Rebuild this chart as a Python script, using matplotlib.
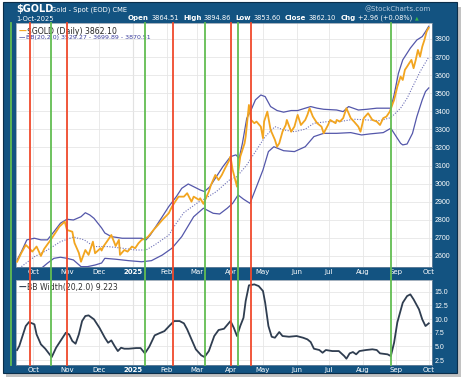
#!/usr/bin/env python3
"""Gold spot (EOD) with Bollinger Bands and BB Width, StockCharts-style panel."""
import matplotlib

matplotlib.use("Agg")
import matplotlib.dates as mdates
import matplotlib.pyplot as plt
import matplotlib.transforms as mtransforms
import pandas as pd
from matplotlib.lines import Line2D
from matplotlib.patches import Rectangle

# ---- data --------------------------------------------------------------------------
price_dates = [
    "2024-09-16", "2024-09-20", "2024-09-24", "2024-09-27", "2024-09-30",
    "2024-10-04", "2024-10-08", "2024-10-11", "2024-10-17", "2024-10-22", "2024-10-25", "2024-10-30",
    "2024-11-01", "2024-11-06", "2024-11-08", "2024-11-12", "2024-11-14", "2024-11-18", "2024-11-21",
    "2024-11-25", "2024-11-27",
    "2024-12-02", "2024-12-03", "2024-12-05", "2024-12-09", "2024-12-12", "2024-12-16", "2024-12-19",
    "2024-12-20", "2024-12-24", "2024-12-27", "2024-12-31",
    "2025-01-03", "2025-01-06", "2025-01-09", "2025-01-13", "2025-01-15", "2025-01-20", "2025-01-24",
    "2025-01-28",
    "2025-02-03", "2025-02-06", "2025-02-10", "2025-02-12", "2025-02-17", "2025-02-20", "2025-02-24",
    "2025-02-26",
    "2025-03-03", "2025-03-04", "2025-03-07", "2025-03-12", "2025-03-14", "2025-03-18", "2025-03-21",
    "2025-03-24", "2025-03-27", "2025-03-31",
    "2025-04-01", "2025-04-03", "2025-04-07", "2025-04-08", "2025-04-10", "2025-04-14", "2025-04-15",
    "2025-04-18", "2025-04-20", "2025-04-23", "2025-04-25", "2025-04-29",
    "2025-05-01", "2025-05-02", "2025-05-05", "2025-05-08", "2025-05-12", "2025-05-14", "2025-05-16",
    "2025-05-19", "2025-05-22", "2025-05-23", "2025-05-27", "2025-05-30",
    "2025-06-02", "2025-06-05", "2025-06-09", "2025-06-11", "2025-06-13", "2025-06-16", "2025-06-18",
    "2025-06-20", "2025-06-24", "2025-06-26", "2025-06-30",
    "2025-07-02", "2025-07-07", "2025-07-08", "2025-07-11", "2025-07-14", "2025-07-17", "2025-07-21",
    "2025-07-24", "2025-07-28", "2025-07-30",
    "2025-08-02", "2025-08-06", "2025-08-10", "2025-08-14", "2025-08-17", "2025-08-20", "2025-08-23",
    "2025-08-26", "2025-08-30",
    "2025-09-02", "2025-09-05", "2025-09-07", "2025-09-09", "2025-09-11", "2025-09-13", "2025-09-15",
    "2025-09-17", "2025-09-19", "2025-09-21", "2025-09-23", "2025-09-25", "2025-09-27", "2025-09-29",
    "2025-10-01",
]
price_vals = [
    2568, 2617, 2661, 2644, 2624,
    2652, 2600, 2639, 2689, 2734, 2762, 2790,
    2744, 2734, 2672, 2617, 2568, 2633, 2606, 2679, 2615,
    2643, 2630, 2655, 2689, 2716, 2655, 2689, 2606, 2633, 2624, 2652,
    2643, 2670, 2689, 2698, 2707, 2744, 2771, 2799,
    2836, 2873, 2910, 2928, 2928, 2947, 2900, 2928,
    2910, 2919, 2888, 2956, 2993, 3048, 3020, 3048, 3085, 3131,
    3149, 3076, 2983, 3057, 3149, 3223, 3260, 3435, 3352, 3334, 3343, 3315,
    3251, 3343, 3398, 3297, 3242, 3204, 3223, 3287, 3324, 3352, 3287, 3315,
    3380, 3324, 3352, 3380, 3417, 3371, 3352, 3334, 3315, 3278, 3324,
    3352, 3334, 3352, 3343, 3362, 3417, 3362, 3343, 3315, 3287,
    3362, 3389, 3352, 3343, 3324, 3362, 3371, 3398, 3462,
    3536, 3592, 3573, 3629, 3647, 3666, 3684, 3638, 3684, 3739, 3702, 3757, 3794, 3840,
    3862,
]

upper_dates = [
    "2024-09-16", "2024-09-20", "2024-09-25", "2024-10-02", "2024-10-08", "2024-10-14", "2024-10-20",
    "2024-10-26", "2024-11-01", "2024-11-07", "2024-11-14", "2024-11-18", "2024-11-22", "2024-11-26",
    "2024-12-03", "2024-12-06", "2024-12-12", "2024-12-22", "2024-12-31", "2025-01-09", "2025-01-13",
    "2025-01-17", "2025-01-21", "2025-01-28", "2025-02-03", "2025-02-10", "2025-02-15", "2025-02-21",
    "2025-02-26", "2025-03-04", "2025-03-08", "2025-03-13", "2025-03-19", "2025-03-25", "2025-04-01",
    "2025-04-06", "2025-04-09", "2025-04-12", "2025-04-16", "2025-04-20", "2025-04-24", "2025-04-29",
    "2025-05-03", "2025-05-08", "2025-05-14", "2025-05-20", "2025-05-27", "2025-06-02", "2025-06-09",
    "2025-06-14", "2025-06-20", "2025-06-26", "2025-07-08", "2025-07-14", "2025-07-19", "2025-07-28",
    "2025-08-05", "2025-08-14", "2025-08-27", "2025-08-30", "2025-09-03", "2025-09-07", "2025-09-14",
    "2025-09-20", "2025-09-25", "2025-09-28", "2025-10-01",
]
upper_vals = [
    2578, 2624, 2689, 2698, 2689, 2689, 2734,
    2781, 2803, 2799, 2817, 2839, 2827, 2808,
    2755, 2727, 2707, 2698, 2698, 2698, 2689,
    2716, 2753, 2817, 2873, 2928, 2974, 2998,
    2983, 2965, 2956, 2983, 3039, 3094, 3149,
    3159, 3140, 3223, 3361, 3407, 3463, 3490,
    3481, 3426, 3404, 3395, 3404, 3404, 3417,
    3426, 3417, 3411, 3407, 3398, 3426, 3407,
    3411, 3417, 3417, 3490, 3610, 3684, 3749,
    3794, 3813, 3840, 3870,
]

mid_dates = [
    "2024-09-20", "2024-10-02", "2024-10-14", "2024-10-26", "2024-11-07", "2024-11-17", "2024-11-26",
    "2024-12-09", "2024-12-22", "2025-01-03", "2025-01-13", "2025-01-21", "2025-02-03", "2025-02-10",
    "2025-02-17", "2025-03-03", "2025-03-08", "2025-03-19", "2025-03-31", "2025-04-07", "2025-04-16",
    "2025-04-25", "2025-05-03", "2025-05-12", "2025-05-20", "2025-05-30", "2025-06-09", "2025-06-17",
    "2025-06-30", "2025-07-11", "2025-07-24", "2025-08-05", "2025-08-17", "2025-08-27", "2025-09-05",
    "2025-09-11", "2025-09-17", "2025-09-23", "2025-10-01",
]
mid_vals = [
    2541, 2596, 2633, 2679, 2705, 2689, 2652,
    2652, 2643, 2633, 2633, 2661, 2715, 2781,
    2840, 2900, 2915, 2956, 3020, 3039, 3103,
    3186, 3260, 3315, 3297, 3287, 3301, 3334,
    3343, 3343, 3356, 3352, 3348, 3365, 3417,
    3472, 3546, 3619, 3700,
]

lower_dates = [
    "2024-10-08", "2024-10-14", "2024-10-20", "2024-10-26", "2024-11-01", "2024-11-07", "2024-11-14",
    "2024-11-20", "2024-11-27", "2024-12-03", "2024-12-06", "2024-12-16", "2024-12-28", "2025-01-09",
    "2025-01-18", "2025-01-28", "2025-02-06", "2025-02-15", "2025-02-26", "2025-03-07", "2025-03-16",
    "2025-03-22", "2025-03-29", "2025-04-03", "2025-04-08", "2025-04-13", "2025-04-19", "2025-04-25",
    "2025-05-01", "2025-05-06", "2025-05-11", "2025-05-20", "2025-05-30", "2025-06-09", "2025-06-17",
    "2025-06-26", "2025-07-08", "2025-07-21", "2025-07-31", "2025-08-08", "2025-08-20", "2025-08-27",
    "2025-08-31", "2025-09-05", "2025-09-07", "2025-09-11", "2025-09-16", "2025-09-20", "2025-09-25",
    "2025-09-28", "2025-10-01",
]
lower_vals = [
    2530, 2560, 2587, 2593, 2587, 2578, 2541,
    2541, 2550, 2561, 2587, 2582, 2574, 2568,
    2574, 2605, 2643, 2707, 2817, 2864, 2836,
    2832, 2864, 2891, 2937, 2914, 2891, 2983,
    3076, 3177, 3204, 3182, 3177, 3204, 3260,
    3278, 3278, 3282, 3269, 3275, 3282, 3306,
    3269, 3223, 3214, 3219, 3278, 3370, 3463,
    3509, 3529,
]

width_dates = [
    "2024-09-16", "2024-09-18", "2024-09-21", "2024-09-24", "2024-09-27",
    "2024-10-02", "2024-10-04", "2024-10-08", "2024-10-12", "2024-10-16", "2024-10-18", "2024-10-22",
    "2024-10-26", "2024-10-31",
    "2024-11-03", "2024-11-06", "2024-11-09", "2024-11-12", "2024-11-15", "2024-11-18", "2024-11-21",
    "2024-11-26",
    "2024-12-01", "2024-12-06", "2024-12-09", "2024-12-12", "2024-12-15", "2024-12-18", "2024-12-21",
    "2024-12-24", "2024-12-28",
    "2025-01-04", "2025-01-08", "2025-01-12", "2025-01-16", "2025-01-21", "2025-01-25", "2025-01-30",
    "2025-02-04", "2025-02-08", "2025-02-13", "2025-02-17", "2025-02-20", "2025-02-24", "2025-02-28",
    "2025-03-05", "2025-03-08", "2025-03-12", "2025-03-17", "2025-03-21", "2025-03-26",
    "2025-04-01", "2025-04-04", "2025-04-07", "2025-04-10", "2025-04-13", "2025-04-15", "2025-04-18",
    "2025-04-23", "2025-04-27",
    "2025-05-01", "2025-05-03", "2025-05-06", "2025-05-09", "2025-05-12", "2025-05-16", "2025-05-19",
    "2025-05-25",
    "2025-06-01", "2025-06-07", "2025-06-11", "2025-06-14", "2025-06-17", "2025-06-22", "2025-06-25",
    "2025-06-28",
    "2025-07-04", "2025-07-10", "2025-07-15", "2025-07-17", "2025-07-20", "2025-07-23", "2025-07-26",
    "2025-07-29",
    "2025-08-04", "2025-08-10", "2025-08-14", "2025-08-17", "2025-08-24", "2025-08-27", "2025-08-30",
    "2025-09-02", "2025-09-07", "2025-09-11", "2025-09-14", "2025-09-17", "2025-09-22", "2025-09-25",
    "2025-09-28",
    "2025-10-01",
]
width_vals = [
    4.34, 5.07, 6.90, 8.73, 9.46,
    9.04, 7.20, 5.38, 4.58, 3.55, 3.06, 4.76, 5.98, 7.50,
    7.20, 5.98, 5.49, 7.20, 9.64, 10.56, 10.68, 9.95,
    8.42, 6.59, 5.67, 6.10, 5.07, 4.15, 4.76, 4.58, 4.58,
    4.70, 4.70, 3.73, 4.94, 7.02, 7.38, 7.80,
    8.85, 9.64, 9.64, 9.22, 8.12, 6.29, 4.47,
    3.37, 3.06, 4.15, 6.90, 8.00, 8.23,
    9.64, 8.42, 6.90, 8.73, 10.24, 13.30, 16.17, 16.35, 16.04,
    15.13, 12.99, 8.73, 6.77, 6.59, 7.63, 6.90, 6.77,
    6.90, 6.59, 6.29, 5.80, 4.58, 4.34, 3.84, 4.34,
    4.15, 4.15, 3.24, 2.75, 3.73, 3.97, 3.55, 4.15,
    4.34, 4.47, 4.34, 3.73, 3.55, 3.24, 5.67,
    9.40, 12.99, 14.21, 14.52, 13.61, 11.78, 9.95, 8.73,
    9.22,
]

# squeeze (green) and expansion-peak (red) markers drawn over the chart
green_dates = ["2024-09-10", "2024-10-17", "2025-01-12", "2025-03-08", "2025-04-08", "2025-08-27"]
red_dates = ["2024-09-28", "2024-11-01", "2025-02-07", "2025-04-01", "2025-04-20"]

month_ticks = ["2024-10-01", "2024-11-01", "2024-12-01", "2025-01-01", "2025-02-01", "2025-03-01",
               "2025-04-01", "2025-05-01", "2025-06-01", "2025-07-01", "2025-08-01", "2025-09-01",
               "2025-10-01"]
month_labels = ["Oct", "Nov", "Dec", "2025", "Feb", "Mar", "Apr", "May", "Jun", "Jul", "Aug", "Sep", "Oct"]
price_ticks = [2600, 2700, 2800, 2900, 3000, 3100, 3200, 3300, 3400, 3500, 3600, 3700, 3800]
width_ticks = [2.5, 5.0, 7.5, 10.0, 12.5, 15.0]

header_items = [("Open", "3864.51"), ("High", "3894.86"), ("Low", "3853.60"),
                ("Close", "3862.10"), ("Chg", "+2.96 (+0.08%)")]

# ---- style --------------------------------------------------------------------------
FRAME = "#135381"
GOLD = "#f2a51f"
BAND = "#5457aa"
WIDTH_LINE = "#2f3d50"
RED = "#f04a2c"
GREEN = "#62bd52"
GRID = "#e6e6e6"
TICKFONT = ["Liberation Sans Narrow", "Liberation Sans", "DejaVu Sans"]

plt.rcParams.update({"font.family": "DejaVu Sans"})

W, H = 469, 378


def d(s):
    return pd.to_datetime(s)


fig = plt.figure(figsize=(W / 100, H / 100), dpi=100)
fig.patch.set_facecolor("white")

# frame + shadow (pixel boxes converted to figure fractions)
fig.add_artist(Rectangle((6 / W, 1 / H), 455 / W, 370 / H, transform=fig.transFigure,
                         facecolor="#9a9a9a", edgecolor="none", alpha=0.6, zorder=-11))
fig.add_artist(Rectangle((3 / W, 5 / H), 454 / W, 371 / H, transform=fig.transFigure,
                         facecolor=FRAME, edgecolor="#0b2e4a", linewidth=0.8, zorder=-10))

ax1 = fig.add_axes([16 / W, (H - 267) / H, 416 / W, 244 / H])
ax2 = fig.add_axes([16 / W, (H - 365) / H, 416 / W, 85 / H])

xlim = (d("2024-09-15"), d("2025-10-04"))
ticks = [d(t) for t in month_ticks]

for ax in (ax1, ax2):
    ax.set_facecolor("white")
    ax.set_xlim(*xlim)
    ax.set_xticks(ticks)
    ax.set_xticklabels(month_labels)
    ax.yaxis.tick_right()
    ax.tick_params(axis="both", length=0, labelcolor="white")
    ax.tick_params(axis="x", pad=1.6, labelsize=5.0)
    ax.tick_params(axis="y", pad=1.8, labelsize=5.0)
    for lab in ax.get_xticklabels():
        if lab.get_text() == "2025":
            lab.set_fontweight("bold")
    ax.grid(True, color=GRID, linewidth=0.6)
    ax.set_axisbelow(True)
    for s in ax.spines.values():
        s.set_color("#7d8fa3")
        s.set_linewidth(0.5)
    # the year boundary gridline is a touch darker
    ax.axvline(ticks[month_labels.index("2025")], color="#cfcfcf", linewidth=0.8, zorder=0.5)

# ---- upper panel: price + Bollinger Bands ------------------------------------------
ax1.plot(pd.to_datetime(upper_dates), upper_vals, color=BAND, linewidth=0.9, zorder=2)
ax1.plot(pd.to_datetime(lower_dates), lower_vals, color=BAND, linewidth=0.9, zorder=2)
ax1.plot(pd.to_datetime(mid_dates), mid_vals, color=BAND, linewidth=0.8, linestyle=(0, (1, 1.4)),
         alpha=0.85, zorder=2)
ax1.plot(pd.to_datetime(price_dates), price_vals, color=GOLD, linewidth=1.3, zorder=3)
ax1.set_ylim(2539, 3888)
ax1.set_yticks(price_ticks)
ax1.set_yticklabels([str(v) for v in price_ticks])
for lab in ax1.get_yticklabels():
    lab.set_family(TICKFONT)

dash = ax1.text(0.006, 0.983, "\u2014", transform=ax1.transAxes, color=GOLD, fontsize=5.8,
                fontweight="bold", va="top", ha="left")
ax1.annotate(r"\$GOLD (Daily) 3862.10", xy=(1, 0), xycoords=dash, xytext=(0.6, 0),
             textcoords="offset points", va="bottom", ha="left", fontsize=5.6, color="#222222")
dash2 = ax1.text(0.006, 0.951, "\u2014", transform=ax1.transAxes, color=BAND, fontsize=4.6,
                 fontweight="bold", va="top", ha="left")
ax1.annotate("BB(20,2.0) 3529.27 - 3699.89 - 3870.51", xy=(1, 0), xycoords=dash2, xytext=(0.6, 0),
             textcoords="offset points", va="bottom", ha="left", fontsize=4.5, color="#3a3d9c")

# ---- lower panel: BB Width ---------------------------------------------------------
ax2.plot(pd.to_datetime(width_dates), width_vals, color=WIDTH_LINE, linewidth=1.3, zorder=3)
ax2.set_ylim(1.6, 17.15)
ax2.set_yticks(width_ticks)
ax2.set_yticklabels([f"{v:.1f}" for v in width_ticks])
for lab in ax2.get_yticklabels():
    lab.set_family(TICKFONT)

dash3 = ax2.text(0.006, 0.965, "\u2014", transform=ax2.transAxes, color=WIDTH_LINE, fontsize=5.6,
                 fontweight="bold", va="top", ha="left")
ax2.annotate("BB Width(20,2.0) 9.223", xy=(1, 0), xycoords=dash3, xytext=(0.6, 0),
             textcoords="offset points", va="bottom", ha="left", fontsize=5.6, color="#333333")

# ---- vertical signal lines spanning both panels --------------------------------------
span = mtransforms.blended_transform_factory(ax1.transData, fig.transFigure)
y_lo = ax2.get_position().y0
y_hi = ax1.get_position().y1
for dates, col in ((green_dates, GREEN), (red_dates, RED)):
    for s in dates:
        x = mdates.date2num(d(s))
        fig.add_artist(Line2D([x, x], [y_lo, y_hi], transform=span, color=col, linewidth=1.3,
                              zorder=5, clip_on=False))

# ---- header --------------------------------------------------------------------------
fig.text(16 / W, 1 - 12 / H, r"\$GOLD", color="white", fontsize=7.0, fontweight="bold",
         ha="left", va="baseline")
fig.text(51 / W, 1 - 11.5 / H, "Gold - Spot (EOD) CME", color="white", fontsize=4.9,
         ha="left", va="baseline")
fig.text(431 / W, 1 - 11 / H, "@StockCharts.com", color="#b9cde0", fontsize=5.0,
         ha="right", va="baseline")
fig.text(16 / W, 1 - 21.2 / H, "1-Oct-2025", color="white", fontsize=4.8, ha="left", va="baseline")

# Open / High / Low / Close / Chg, chained left to right
prev = fig.text(128 / W, 1 - 21.2 / H, "", fontsize=4.8, ha="left", va="baseline")
for i, (label, value) in enumerate(header_items):
    lab = plt.annotate(label, xy=(1, 0), xycoords=prev, xytext=(0 if i == 0 else 3.2, 0),
                       textcoords="offset points", ha="left", va="bottom", fontsize=5.0,
                       fontweight="bold", color="white", annotation_clip=False)
    prev = plt.annotate(value, xy=(1, 0), xycoords=lab, xytext=(1.6, 0), textcoords="offset points",
                        ha="left", va="bottom", fontsize=4.8, color="white", annotation_clip=False)
plt.annotate("\u25b2", xy=(1, 0), xycoords=prev, xytext=(2.0, 0.5), textcoords="offset points",
             ha="left", va="bottom", fontsize=3.5, color="#38b54a", annotation_clip=False)

fig.savefig("out.png", dpi=100, facecolor=fig.get_facecolor())
